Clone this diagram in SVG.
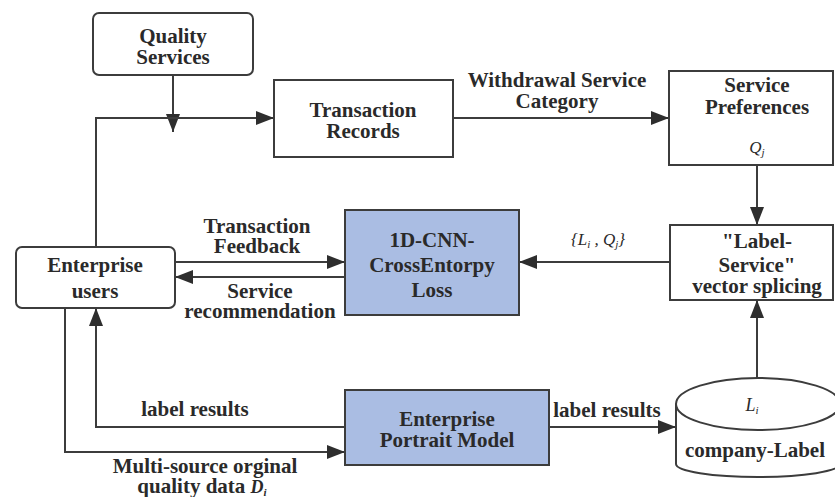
<svg xmlns="http://www.w3.org/2000/svg" width="835" height="497" viewBox="0 0 835 497">
<defs>
<style>
.box{fill:#ffffff;stroke:#3c3c3c;stroke-width:2}
.blue{fill:#aabde3;stroke:#3c3c3c;stroke-width:2}
.ln{fill:none;stroke:#3c3c3c;stroke-width:2}
.t{font-family:"Liberation Serif","Times New Roman",serif;font-weight:bold;font-size:21px;fill:#2a2a2a;text-anchor:middle}
.m{font-family:"Liberation Serif","Times New Roman",serif;font-style:italic;font-size:17px;fill:#2a2a2a;text-anchor:middle}
.s{font-size:11px}
</style>
<marker id="ah" markerUnits="userSpaceOnUse" markerWidth="20" markerHeight="16" refX="18" refY="7" orient="auto">
<path d="M0,0 L18,7 L0,14 z" fill="#2e2e2e"/>
</marker>
</defs>
<rect width="835" height="497" fill="#ffffff"/>
<g id="connectors">
<path class="ln" d="M173,75 V132" marker-end="url(#ah)"/>
<path class="ln" d="M96,247 V118 H274" marker-end="url(#ah)"/>
<path class="ln" d="M453,118 H669" marker-end="url(#ah)"/>
<path class="ln" d="M757,165 V225" marker-end="url(#ah)"/>
<path class="ln" d="M670,262 H519" marker-end="url(#ah)"/>
<path class="ln" d="M175,262 H345" marker-end="url(#ah)"/>
<path class="ln" d="M345,277 H175" marker-end="url(#ah)"/>
<path class="ln" d="M757,378 V300" marker-end="url(#ah)"/>
<path class="ln" d="M345,427 H96 V308" marker-end="url(#ah)"/>
<path class="ln" d="M65,308 V452 H345" marker-end="url(#ah)"/>
<path class="ln" d="M549,427 H676" marker-end="url(#ah)"/>
<text class="t" x="557" y="87">Withdrawal Service</text>
<text class="t" x="557" y="108">Category</text>
<text class="m" x="598" y="245">{<tspan>L</tspan><tspan class="s" dy="3">i</tspan><tspan dy="-3"> , Q</tspan><tspan class="s" dy="3">j</tspan><tspan dy="-3">}</tspan></text>
<text class="t" x="257" y="233">Transaction</text>
<text class="t" x="257" y="253">Feedback</text>
<text class="t" x="260" y="298">Service</text>
<text class="t" x="260" y="318">recommendation</text>
<text class="t" x="195" y="416">label results</text>
<text class="t" x="607" y="417">label results</text>
<text class="t" x="205" y="473">Multi-source orginal</text>
<text class="t" x="202" y="493">quality data <tspan class="m" style="font-size:18px">D</tspan><tspan class="m s" dy="3">i</tspan></text>
</g>
<g id="quality-services">
<rect class="box" x="93" y="13" width="160" height="62" rx="6"/>
<text class="t" x="173" y="43">Quality</text>
<text class="t" x="173" y="64">Services</text>
</g>
<g id="transaction-records">
<rect class="box" x="274" y="80" width="179" height="77"/>
<text class="t" x="363" y="117">Transaction</text>
<text class="t" x="363" y="138">Records</text>
</g>
<g id="service-preferences">
<rect class="box" x="669" y="71" width="164" height="94"/>
<text class="t" x="757" y="92">Service</text>
<text class="t" x="757" y="114">Preferences</text>
<text class="m" x="757" y="153">Q<tspan class="s" dy="3">j</tspan></text>
</g>
<g id="label-service">
<rect class="box" x="670" y="225" width="163" height="75"/>
<text class="t" x="757" y="248">"Label-</text>
<text class="t" x="757" y="272">Service"</text>
<text class="t" x="757" y="293">vector splicing</text>
</g>
<g id="cnn">
<rect class="blue" x="345" y="210" width="174" height="105"/>
<text class="t" x="432" y="247">1D-CNN-</text>
<text class="t" x="432" y="272">CrossEntorpy</text>
<text class="t" x="432" y="297">Loss</text>
</g>
<g id="enterprise-users">
<rect class="box" x="16" y="247" width="159" height="61" rx="6"/>
<text class="t" x="95" y="272">Enterprise</text>
<text class="t" x="95" y="298">users</text>
</g>
<g id="portrait-model">
<rect class="blue" x="345" y="390" width="204" height="75"/>
<text class="t" x="447" y="426">Enterprise</text>
<text class="t" x="447" y="447">Portrait Model</text>
</g>
<g id="company-label">
<path class="box" d="M676,404 V464 A82,13 0 0 0 840,464 V404"/>
<ellipse class="box" cx="758" cy="404" rx="82" ry="26"/>
<text class="m" x="752" y="411" style="font-size:18px">L<tspan class="s" dy="3">i</tspan></text>
<text class="t" x="755" y="457">company-Label</text>
</g>
</svg>
